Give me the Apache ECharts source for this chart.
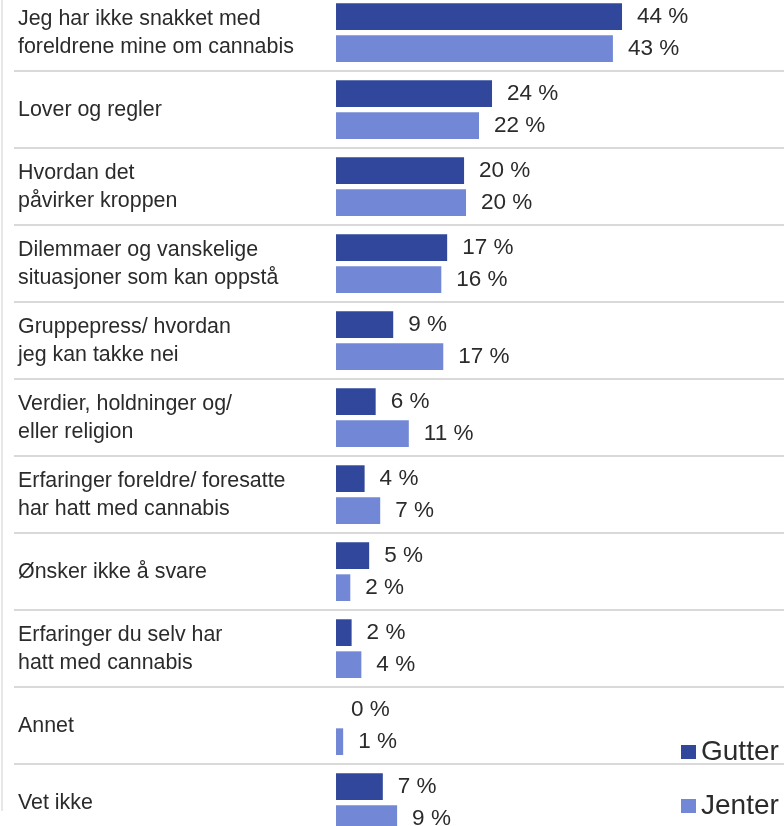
<!DOCTYPE html>
<html>
<head>
<meta charset="utf-8">
<script src="https://cdn.jsdelivr.net/npm/echarts@6/dist/echarts.min.js"></script>
<style>
  html, body { margin: 0; padding: 0; background: #fff; }
  #chart { width: 784px; height: 826px; }
</style>
</head>
<body>
<div id="chart"></div>
<script>
const categories = [
  "Jeg har ikke snakket med\nforeldrene mine om cannabis",
  "Lover og regler",
  "Hvordan det\npåvirker kroppen",
  "Dilemmaer og vanskelige\nsituasjoner som kan oppstå",
  "Gruppepress/ hvordan\njeg kan takke nei",
  "Verdier, holdninger og/\neller religion",
  "Erfaringer foreldre/ foresatte\nhar hatt med cannabis",
  "Ønsker ikke å svare",
  "Erfaringer du selv har\nhatt med cannabis",
  "Annet",
  "Vet ikke",
];

// percent (labels are rounded)
const gutter = [44.0, 24.0, 19.7, 17.1, 8.8, 6.1, 4.4, 5.1, 2.4, 0, 7.2];
const jenter = [42.6, 22.0, 20.0, 16.2, 16.5, 11.2, 6.8, 2.2, 3.9, 1.1, 9.4];

const seriesNames = ["Gutter", "Jenter"];

const FONT = "'Liberation Sans', Arial, sans-serif";
const TEXT = "#2b2b2b";

const chart = echarts.init(document.getElementById("chart"));

const barLabel = {
  show: true,
  position: "right",
  distance: 15,
  color: TEXT,
  fontFamily: FONT,
  fontSize: 22.5,
  formatter: (p) => Math.round(p.value) + " %",
};

const buildOption = () => ({
  animation: false,
  textStyle: { fontFamily: FONT },
  graphic: [
    {
      // thin frame line on the left edge
      type: "line",
      shape: { x1: 2, y1: 0, x2: 2, y2: 811 },
      style: { stroke: "#cfcfcf", lineWidth: 1 },
    },
  ],
  legend: {
    data: seriesNames,
    orient: "vertical",
    left: 681,
    top: 737,
    padding: 0,
    icon: "rect",
    itemWidth: 15,
    itemHeight: 14,
    itemGap: 24,
    textStyle: {
      color: TEXT,
      fontFamily: FONT,
      fontSize: 28,
      lineHeight: 30,
    },
  },
  grid: {
    left: 14,
    right: 0,
    top: -5.85,
    height: 847,
    outerBoundsMode: "none",
  },
  xAxis: {
    type: "value",
    min: -49.54,
    max: 68.92,
    show: false,
  },
  yAxis: {
    type: "category",
    data: categories,
    inverse: true,
    axisLine: { show: false },
    axisTick: { show: false },
    splitLine: {
      show: true,
      lineStyle: { color: "#cdcdcd", width: 1.5 },
    },
    axisLabel: {
      inside: true,
      margin: 4,
      color: TEXT,
      fontFamily: FONT,
      fontSize: 21.4,
      lineHeight: 28,
    },
  },
  series: [
    {
      name: seriesNames[0],
      type: "bar",
      data: gutter,
      barWidth: 26.7,
      barGap: "20%",
      itemStyle: { color: "#30479b" },
      label: barLabel,
    },
    {
      name: seriesNames[1],
      type: "bar",
      data: jenter,
      barWidth: 26.7,
      itemStyle: { color: "#7288d6" },
      label: barLabel,
    },
  ],
});

chart.setOption(buildOption());
window.addEventListener("resize", () => chart.resize());
</script>
</body>
</html>
